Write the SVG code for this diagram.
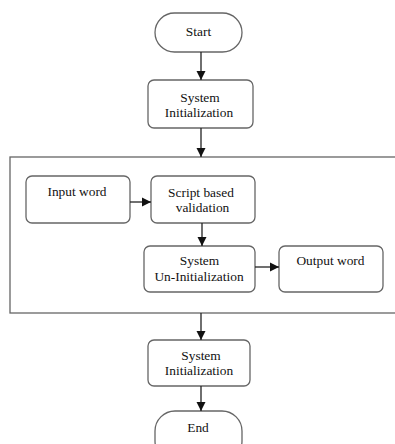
<svg xmlns="http://www.w3.org/2000/svg" width="395" height="444" viewBox="0 0 395 444">
<defs>
<marker id="ah" markerWidth="10" markerHeight="10" refX="9" refY="5" orient="auto" markerUnits="userSpaceOnUse">
<path d="M0,0.5 L9,5 L0,9.5 Z" fill="#111"/>
</marker>
<style>
.box{fill:#fff;stroke:#666;stroke-width:1.3}
.frame{fill:none;stroke:#666;stroke-width:1.3}
.t{font-family:"Liberation Serif","Times New Roman",serif;font-size:13.4px;fill:#111;text-anchor:middle}
.c{stroke:#222;stroke-width:1.3;fill:none;marker-end:url(#ah)}
</style>
</defs>
<rect width="395" height="444" fill="#fff"/>
<g id="frame"><rect class="frame" x="10" y="157" width="400" height="156"/></g>
<g id="start"><rect class="box" x="155" y="13" width="87" height="39" rx="19.5"/><text class="t" x="198.5" y="36">Start</text></g>
<g id="init1"><rect class="box" x="148" y="80" width="105" height="48" rx="6"/><text class="t" x="200" y="101.5">System</text><text class="t" x="199" y="116.5">Initialization</text></g>
<g id="input"><rect class="box" x="26" y="176" width="104" height="47" rx="6"/><text class="t" x="77" y="196">Input word</text></g>
<g id="script"><rect class="box" x="151" y="176" width="104" height="47" rx="6"/><text class="t" x="201" y="197">Script based</text><text class="t" x="202.5" y="212">validation</text></g>
<g id="uninit"><rect class="box" x="144" y="246" width="111" height="46" rx="6"/><text class="t" x="199.5" y="265">System</text><text class="t" x="199" y="281">Un-Initialization</text></g>
<g id="output"><rect class="box" x="279" y="246" width="104" height="46" rx="6"/><text class="t" x="330.5" y="265">Output word</text></g>
<g id="init2"><rect class="box" x="148" y="340" width="102" height="46" rx="6"/><text class="t" x="201" y="360">System</text><text class="t" x="199" y="375">Initialization</text></g>
<g id="end"><rect class="box" x="155" y="411" width="87" height="50" rx="20"/><text class="t" x="198" y="432">End</text></g>
<g id="connectors">
<line class="c" x1="201" y1="52" x2="201" y2="80"/>
<line class="c" x1="201" y1="128" x2="201" y2="157"/>
<line class="c" x1="130" y1="202" x2="151" y2="202"/>
<line class="c" x1="202" y1="223" x2="202" y2="246"/>
<line class="c" x1="255" y1="267" x2="279" y2="267"/>
<line class="c" x1="201" y1="313" x2="201" y2="340"/>
<line class="c" x1="201" y1="386" x2="201" y2="411"/>
</g>
</svg>
